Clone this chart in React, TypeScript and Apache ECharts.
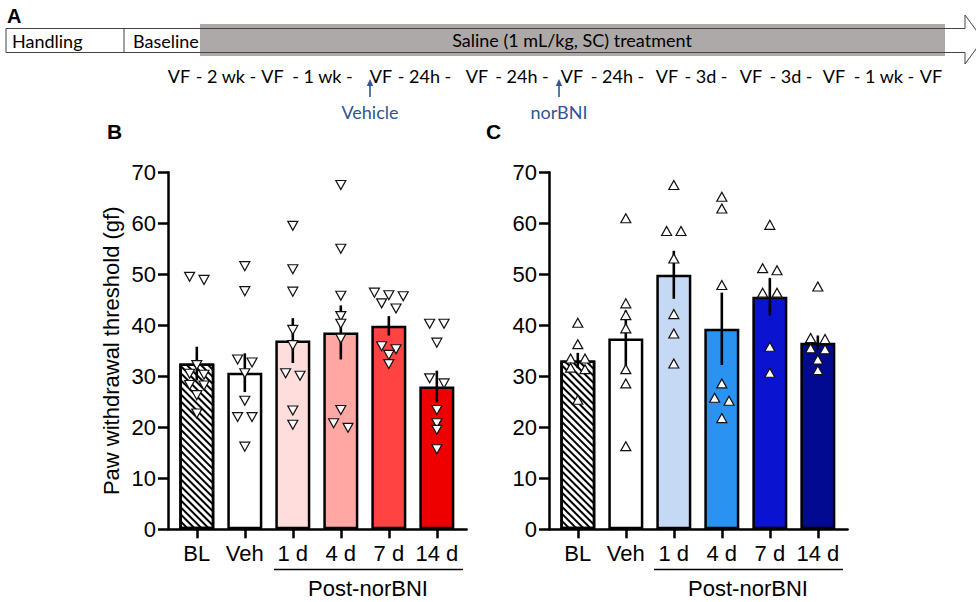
import React, { useEffect, useRef } from 'react';
import * as echarts from 'echarts';

// ---------- data ----------
const categories = ['BL', 'Veh', '1 d', '4 d', '7 d', '14 d'];
const yTicks = { min: 0, max: 70, step: 10 };

const meansB = [32.5, 30.7, 37.0, 38.6, 39.9, 28.0];
const semB = [3.3, 3.8, 4.4, 5.3, 1.9, 3.1];
const pointsB = [
  [49.5, 48.9, 32.2, 30.5, 30.3, 28.3, 28.2, 26.3, 22.7],
  [51.6, 46.7, 33.3, 32.7, 30.6, 25.2, 22.0, 22.0, 16.2],
  [59.5, 51.0, 46.6, 39.1, 36.1, 30.6, 30.1, 23.3, 20.5],
  [67.5, 55.0, 45.8, 41.8, 40.3, 37.4, 23.4, 20.8, 19.9],
  [46.4, 45.9, 45.7, 44.3, 43.3, 35.9, 35.3, 34.2, 32.4],
  [40.3, 40.3, 36.6, 29.6, 28.6, 23.4, 20.8, 19.5, 15.7],
];

const meansC = [33.1, 37.4, 49.9, 39.3, 45.6, 36.6];
const semC = [1.5, 5.5, 4.7, 7.1, 3.7, 1.4];
const pointsC = [
  [40.5, 36.3, 33.5, 33.5, 31.7, 31.4, 25.4],
  [61.0, 44.3, 42.0, 39.4, 31.4, 28.6, 16.3],
  [67.5, 58.5, 58.5, 53.1, 42.2, 38.4, 32.5],
  [65.2, 62.9, 47.9, 28.6, 25.8, 25.2, 21.8],
  [59.7, 51.2, 50.8, 46.4, 46.4, 35.8, 30.7],
  [47.6, 37.5, 37.3, 35.5, 35.3, 33.3, 31.2],
];

const colorsB = ['#ffffff', '#ffffff', '#FFDDDC', '#FFA8A3', '#FF4242', '#EE0000'];
const colorsC = ['#ffffff', '#ffffff', '#C6D9F4', '#2A93F2', '#0A13D0', '#030A92'];

const timelineVF = ['VF', 'VF', 'VF', 'VF', 'VF', 'VF', 'VF', 'VF', 'VF'];
const timelineGaps = ['- 2 wk -', '- 1 wk -', '- 24h -', '- 24h -', '- 24h -', '- 3d -', '- 3d -', '- 1 wk -'];

// ---------- helpers ----------
const AX = 'Liberation Sans, Arial, sans-serif';
const TL = 'Lato, Carlito, Calibri, sans-serif';

function jitter(vals: number[], idx: number): number[][] {
  const sorted = [...vals].sort((a, b) => b - a);
  const out: number[][] = [];
  let i = 0;
  while (i < sorted.length) {
    const row = [sorted[i]];
    let j = i + 1;
    while (j < sorted.length && sorted[i] - sorted[j] < 1.2 && row.length < 3) {
      row.push(sorted[j]);
      j++;
    }
    row.forEach((v, k) => out.push([idx + (k - (row.length - 1) / 2) * 0.3, v]));
    i = j;
  }
  return out;
}

const hatch = {
  symbol: 'rect',
  symbolSize: 1,
  dashArrayX: [1, 0],
  dashArrayY: [1.2, 2.8],
  rotation: Math.PI / 4,
  color: '#000',
};

function axesFor(g: number) {
  const x = {
    type: 'value',
    gridIndex: g,
    min: -0.6,
    max: 5.62,
    axisLine: { show: true, onZero: false, lineStyle: { color: '#000', width: 2.5 } },
    axisTick: {
      show: true,
      customValues: categories.map((_, i) => i),
      length: 9,
      lineStyle: { color: '#000', width: 2.5 },
    },
    axisLabel: {
      customValues: categories.map((_, i) => i),
      formatter: (v: number) => categories[Math.round(v)] ?? '',
      fontSize: 22,
      color: '#000',
      fontFamily: AX,
      margin: 13,
    },
    splitLine: { show: false },
  };
  const y: any = {
    type: 'value',
    gridIndex: g,
    min: yTicks.min,
    max: yTicks.max,
    interval: yTicks.step,
    axisLine: { show: true, onZero: false, lineStyle: { color: '#000', width: 2.5 } },
    axisTick: { show: true, length: 10, lineStyle: { color: '#000', width: 2.5 } },
    axisLabel: { fontSize: 22, color: '#000', fontFamily: AX, margin: 12 },
    splitLine: { show: false },
  };
  if (g === 0) {
    y.name = 'Paw withdrawal threshold (gf)';
    y.nameLocation = 'middle';
    y.nameGap = 46;
    y.nameTextStyle = { fontSize: 22, color: '#000', fontFamily: AX };
  }
  return { x, y };
}

function seriesFor(g: number, means: number[], sems: number[], pts: number[][], colors: string[], rotate: number) {
  return [
    {
      type: 'bar',
      xAxisIndex: g,
      yAxisIndex: g,
      barWidth: 35,
      z: 2,
      data: means.map((m, i) => ({
        value: [i, m],
        itemStyle: {
          color: colors[i],
          borderColor: '#000',
          borderWidth: 2.5,
          ...(i === 0 ? { decal: hatch } : {}),
        },
      })),
    },
    {
      type: 'custom',
      xAxisIndex: g,
      yAxisIndex: g,
      z: 3,
      data: means.map((m, i) => [i, m - sems[i], m + sems[i]]),
      encode: { x: 0, y: [1, 2] },
      renderItem: (_p: any, api: any) => {
        const lo = api.coord([api.value(0), api.value(1)]);
        const hi = api.coord([api.value(0), api.value(2)]);
        return {
          type: 'line',
          shape: { x1: lo[0], y1: lo[1], x2: hi[0], y2: hi[1] },
          style: { stroke: '#000', lineWidth: 2.6 },
        };
      },
    },
    {
      type: 'scatter',
      xAxisIndex: g,
      yAxisIndex: g,
      z: 4,
      symbol: 'triangle',
      symbolRotate: rotate,
      symbolSize: [10, 9],
      itemStyle: { color: '#ffffff', borderColor: '#111', borderWidth: 1.2, opacity: 1 },
      data: pts.flatMap((vals, i) => jitter(vals, i)),
    },
  ];
}

function txt(text: string, x: number, y: number, size: number, family: string, opts: any = {}) {
  return {
    type: 'text',
    z: 10,
    style: {
      text,
      x,
      y,
      fontSize: size,
      fontFamily: family,
      fontWeight: opts.bold ? 'bold' : 'normal',
      fill: opts.fill || '#000',
      textAlign: opts.align || 'left',
      align: opts.align || 'left',
      textVerticalAlign: 'middle',
      verticalAlign: 'middle',
    },
  };
}

function timelineGraphics() {
  const els: any[] = [];
  els.push({ type: 'rect', z: 5, shape: { x: 200, y: 24, width: 745, height: 32 }, style: { fill: '#ADA9A9' } });
  els.push({
    type: 'polygon',
    z: 6,
    shape: {
      points: [
        [6, 28.5], [965, 28.5], [965, 15], [983, 39.5], [965, 64], [965, 52.5], [6, 52.5],
      ],
    },
    style: { fill: 'none', stroke: '#444', lineWidth: 1 },
  });
  els.push({ type: 'line', z: 6, shape: { x1: 124, y1: 28.5, x2: 124, y2: 52.5 }, style: { stroke: '#444', lineWidth: 1 } });
  els.push(txt('Handling', 12, 41, 18, TL));
  els.push(txt('Baseline', 133, 41, 18, TL));
  els.push(txt('Saline (1 mL/kg, SC) treatment', 572, 40, 18, TL, { align: 'center' }));

  const vfCenters = [179, 272.5, 381, 477, 572, 667, 751, 834, 931];
  const gapCenters = [226, 322.5, 424.5, 522, 617.5, 706, 791, 884];
  timelineVF.forEach((t, i) => els.push(txt(t, vfCenters[i], 75.5, 18, TL, { align: 'center' })));
  timelineGaps.forEach((t, i) => els.push(txt(t, gapCenters[i], 75.5, 18, TL, { align: 'center' })));

  const blue = '#2F5597';
  [[370, 'Vehicle'], [559, 'norBNI']].forEach(([x, label]: any) => {
    els.push({ type: 'line', z: 6, shape: { x1: x, y1: 84, x2: x, y2: 97 }, style: { stroke: blue, lineWidth: 1.6 } });
    els.push({ type: 'polygon', z: 6, shape: { points: [[x, 79], [x - 3.2, 86], [x + 3.2, 86]] }, style: { fill: blue } });
    els.push(txt(label, x, 112, 18, TL, { align: 'center', fill: blue }));
  });
  return els;
}

function annotationGraphics() {
  return [
    txt('A', 7, 15.5, 20, AX, { bold: true }),
    txt('B', 107, 131, 21, AX, { bold: true }),
    txt('C', 486, 131, 21, AX, { bold: true }),
    { type: 'line', z: 6, shape: { x1: 274, y1: 569.5, x2: 463, y2: 569.5 }, style: { stroke: '#000', lineWidth: 1.6 } },
    { type: 'line', z: 6, shape: { x1: 654, y1: 569.5, x2: 843, y2: 569.5 }, style: { stroke: '#000', lineWidth: 1.6 } },
    txt('Post-norBNI', 368, 588, 22, AX, { align: 'center' }),
    txt('Post-norBNI', 748, 588, 22, AX, { align: 'center' }),
  ];
}

export default function App() {
  const ref = useRef<HTMLDivElement>(null);
  useEffect(() => {
    if (!ref.current) return;
    const chart = echarts.init(ref.current, undefined, { renderer: 'svg' });
    const a0 = axesFor(0);
    const a1 = axesFor(1);
    chart.setOption({
      animation: false,
      backgroundColor: '#fff',
      textStyle: { fontFamily: AX },
      grid: [
        { left: 168, top: 172.3, width: 298.6, height: 357 },
        { left: 549, top: 172.3, width: 298.6, height: 357 },
      ],
      xAxis: [a0.x, a1.x],
      yAxis: [a0.y, a1.y],
      series: [
        ...seriesFor(0, meansB, semB, pointsB, colorsB, 180),
        ...seriesFor(1, meansC, semC, pointsC, colorsC, 0),
      ],
      graphic: { elements: [...timelineGraphics(), ...annotationGraphics()] },
    });
    return () => chart.dispose();
  }, []);
  return (
    <div
      ref={ref}
      style={{ position: 'absolute', left: 0, top: 0, width: 976, height: 602, background: '#fff' }}
    />
  );
}
